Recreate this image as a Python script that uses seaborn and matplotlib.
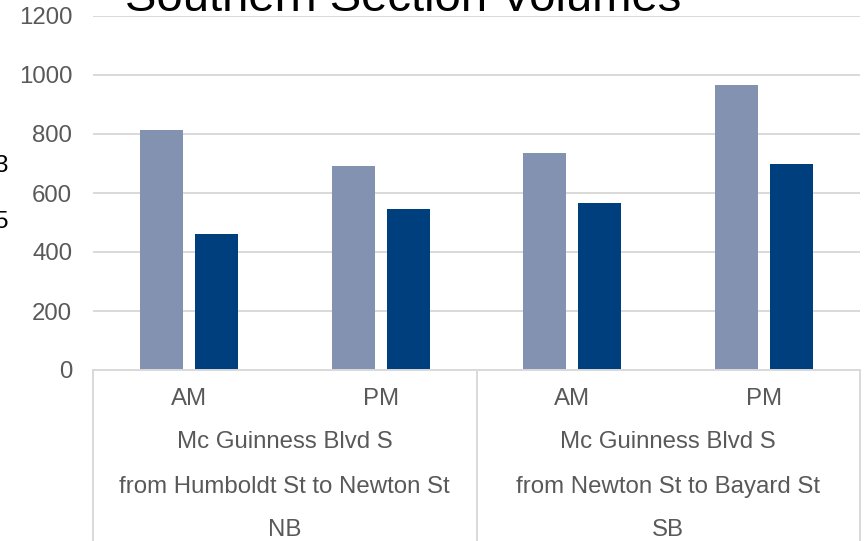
import matplotlib
matplotlib.use("Agg")
import matplotlib.pyplot as plt
import matplotlib.transforms as mtransforms
import seaborn as sns
import pandas as pd

# ---- data ----
periods = ["AM", "PM", "AM", "PM"]
slots = ["AM NB", "PM NB", "AM SB", "PM SB"]
group_lines = [
    ["Mc Guinness Blvd S", "from Humboldt St to Newton St", "NB"],
    ["Mc Guinness Blvd S", "from Newton St to Bayard St", "SB"],
]
series_names = ["2023", "2025"]
series_a = [815, 692, 736, 966]
series_b = [461, 545, 566, 698]
y_ticks = [0, 200, 400, 600, 800, 1000, 1200]
title = "Southern Section Volumes"
colors = ["#8492B1", "#003F7E"]

df = pd.DataFrame({
    "slot": slots * 2,
    "series": [series_names[0]] * 4 + [series_names[1]] * 4,
    "volume": series_a + series_b,
})

sns.set_theme(style="white")
plt.rcParams["font.family"] = ["Liberation Sans", "DejaVu Sans"]

W, H = 865, 541
fig = plt.figure(figsize=(W / 100, H / 100), dpi=100)
x0, x1, y_top, y_bot = 93, 860, 16, 370
ax = fig.add_axes([x0 / W, (H - y_bot) / H, (x1 - x0) / W, (y_bot - y_top) / H])

sns.barplot(data=df, x="slot", y="volume", hue="series", order=slots,
            hue_order=series_names, palette=colors, width=0.574, gap=0.218,
            saturation=1, linewidth=0, legend=False, ax=ax)

ax.set_xlim(-0.5, 3.5)
ax.set_ylim(0, 1200)
ax.set_yticks(y_ticks)
ax.set_yticklabels([str(v) for v in y_ticks])
ax.set_xticks([])
ax.set_xlabel("")
ax.set_ylabel("")
ax.tick_params(axis="y", length=0, pad=15, labelsize=17.3, labelcolor="#595959")
ax.yaxis.grid(True, color="#D9D9D9", linewidth=1.4)
ax.set_axisbelow(True)
for s in ["left", "right", "top"]:
    ax.spines[s].set_visible(False)
ax.spines["bottom"].set_color("#D9D9D9")
ax.spines["bottom"].set_linewidth(1.4)

# multi-level category axis
span = y_bot - y_top
def yfrac(py):
    return (y_bot - py) / span

trans = mtransforms.blended_transform_factory(ax.transData, ax.transAxes)
for i, p in enumerate(periods):
    ax.text(i, yfrac(399), p, transform=trans, ha="center", va="center",
            fontsize=17.3, color="#595959", clip_on=False)
for g, lines in enumerate(group_lines):
    cx = 0.5 + 2 * g
    for line, py in zip(lines, [442, 487, 530]):
        ax.text(cx, yfrac(py), line, transform=trans, ha="center", va="center",
                fontsize=17.3, color="#595959", clip_on=False)
for xv in [-0.5, 1.5, 3.5]:
    ax.plot([xv, xv], [0, -0.6], transform=trans, color="#D9D9D9",
            linewidth=1.4, clip_on=False)

# title (partially cut off at top, as in the reference)
fig.text(403 / W, (H - 11) / H, title, ha="center", va="baseline",
         fontsize=34, color="black")

# cropped legend labels at the left edge (as in the reference)
fig.text(9 / W, (H - 166) / H, series_names[0], ha="right", va="center",
         fontsize=17.3, color="black")
fig.text(9 / W, (H - 222) / H, series_names[1], ha="right", va="center",
         fontsize=17.3, color="black")

fig.savefig("out.png", dpi=100)
